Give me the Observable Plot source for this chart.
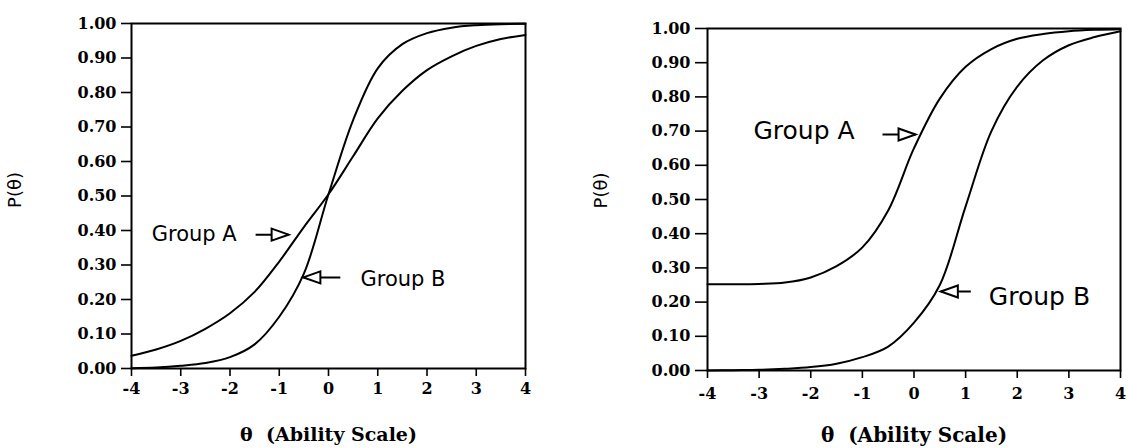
<!DOCTYPE html>
<html>
<head>
<meta charset="utf-8">
<script src="https://cdn.jsdelivr.net/npm/d3@7"></script>
<script src="https://cdn.jsdelivr.net/npm/@observablehq/plot@0.6"></script>
<style>
  html, body { margin: 0; padding: 0; background: #fff; }
  #wrap { position: relative; width: 1128px; height: 448px; overflow: hidden; background: #fff; }
  #left { position: absolute; left: 0; top: 0; }
  #right { position: absolute; left: 560px; top: 0; }
</style>
</head>
<body>
<div id="wrap"><div id="left"></div><div id="right"></div></div>
<script>
// ---- data ----
const thetas = [-4, -3.5, -3, -2.5, -2, -1.5, -1, -0.5, 0, 0.5, 1, 1.5, 2, 2.5, 3, 3.5, 4];
const leftGroupA = [0.037, 0.055, 0.080, 0.115, 0.160, 0.222, 0.310, 0.410, 0.505, 0.615, 0.725, 0.805, 0.865, 0.905, 0.935, 0.955, 0.967];
const leftGroupB = [0.001, 0.003, 0.008, 0.016, 0.033, 0.070, 0.150, 0.275, 0.505, 0.720, 0.870, 0.940, 0.972, 0.988, 0.995, 0.998, 0.999];
const rightGroupA = [0.252, 0.252, 0.253, 0.257, 0.272, 0.305, 0.360, 0.468, 0.650, 0.795, 0.888, 0.940, 0.970, 0.984, 0.992, 0.996, 0.998];
const rightGroupB = [0.000, 0.001, 0.002, 0.005, 0.010, 0.020, 0.039, 0.070, 0.140, 0.250, 0.480, 0.700, 0.830, 0.907, 0.951, 0.975, 0.992];
const xTicks = [-4, -3, -2, -1, 0, 1, 2, 3, 4];
const yTicks = [0, 0.1, 0.2, 0.3, 0.4, 0.5, 0.6, 0.7, 0.8, 0.9, 1.0];
const groupLabels = ["Group A", "Group B"];
const yTitle = "P(θ)";
const xTitle = "θ  (Ability Scale)";

// annotation anchors (data coordinates)
const leftLabelX = [-3.59, 0.65], leftLabelY = [0.388, 0.26];
const leftArrowTail = [-1.48, 0.24], leftArrowTip = [-0.81, -0.51], leftArrowY = [0.388, 0.264];
const rightLabelX = [-3.11, 1.45], rightLabelY = [0.70, 0.214];
const rightArrowTail = [-0.61, 1.10], rightArrowTip = [0.03, 0.52], rightArrowY = [0.69, 0.231];

const series = (vals) => thetas.map((t, i) => ({theta: t, p: vals[i]}));

const triRight = {draw(ctx) { ctx.moveTo(0, 0); ctx.lineTo(-17, -6); ctx.lineTo(-17, 6); ctx.closePath(); }};
const triLeft = {draw(ctx) { ctx.moveTo(0, 0); ctx.lineTo(17, -6); ctx.lineTo(17, 6); ctx.closePath(); }};

function panel(opts) {
  const labels = groupLabels.map((g, i) => ({g, x: opts.labelX[i], y: opts.labelY[i]}));
  const arrows = groupLabels.map((g, i) => ({x1: opts.tail[i], x2: opts.tip[i], y: opts.arrowY[i], dir: i}));
  return Plot.plot({
    width: opts.width, height: 448,
    marginLeft: opts.ml, marginRight: opts.mr, marginTop: opts.mt, marginBottom: opts.mb,
    x: {domain: [-4, 4]},
    y: {domain: [0, 1]},
    style: {fontFamily: "DejaVu Serif", fontSize: "16px", color: "black", background: "transparent"},
    marks: [
      Plot.axisY({ticks: yTicks, tickFormat: d => d.toFixed(2), tickSize: opts.yTickSize, tickPadding: 5, strokeWidth: 1.6, fontWeight: "bold", fontSize: 16, label: null}),
      Plot.axisX({ticks: xTicks, tickFormat: d => String(d), tickSize: 8, tickPadding: opts.xPad, strokeWidth: 1.6, fontWeight: "bold", fontSize: 16, label: null}),
      Plot.frame({stroke: "black", strokeWidth: 2}),
      Plot.line(series(opts.A), {x: "theta", y: "p", curve: "catmull-rom", stroke: "black", strokeWidth: 2}),
      Plot.line(series(opts.B), {x: "theta", y: "p", curve: "catmull-rom", stroke: "black", strokeWidth: 2}),
      Plot.link(arrows, {x1: "x1", x2: "x2", y1: "y", y2: "y", stroke: "black", strokeWidth: 2}),
      Plot.dot(arrows.filter(d => d.dir === 0), {x: "x2", y: "y", symbol: triRight, fill: "white", stroke: "black", strokeWidth: 2}),
      Plot.dot(arrows.filter(d => d.dir === 1), {x: "x2", y: "y", symbol: triLeft, fill: "white", stroke: "black", strokeWidth: 2}),
      Plot.text(labels, {x: "x", y: "y", text: "g", textAnchor: "start", fontFamily: "DejaVu Sans", fontSize: opts.labelSize, fill: "black"}),
      Plot.text([yTitle], {frameAnchor: "left", textAnchor: "middle", lineAnchor: "middle", dx: opts.yTitleDx, dy: opts.yTitleDy, rotate: -90, fontFamily: "DejaVu Sans", fontSize: 18, fill: "black"}),
      Plot.text([xTitle], {frameAnchor: "bottom", textAnchor: "middle", lineAnchor: "bottom", dy: opts.xTitleDy, fontFamily: "DejaVu Serif", fontWeight: "bold", fontSize: opts.xTitleSize, fill: "black"})
    ]
  });
}

document.getElementById("left").append(panel({
  width: 540, ml: 131, mr: 15, mt: 23, mb: 80, yTickSize: 10, xPad: 6,
  A: leftGroupA, B: leftGroupB,
  labelX: leftLabelX, labelY: leftLabelY, tail: leftArrowTail, tip: leftArrowTip, arrowY: leftArrowY,
  labelSize: 21, yTitleDx: -116, yTitleDy: -6, xTitleDy: 72, xTitleSize: 19
}));
document.getElementById("right").append(panel({
  width: 568, ml: 147, mr: 8, mt: 28, mb: 78, yTickSize: 12, xPad: 9,
  A: rightGroupA, B: rightGroupB,
  labelX: rightLabelX, labelY: rightLabelY, tail: rightArrowTail, tip: rightArrowTip, arrowY: rightArrowY,
  labelSize: 25, yTitleDx: -106, yTitleDy: -9, xTitleDy: 71, xTitleSize: 20
}));
</script>
</body>
</html>
